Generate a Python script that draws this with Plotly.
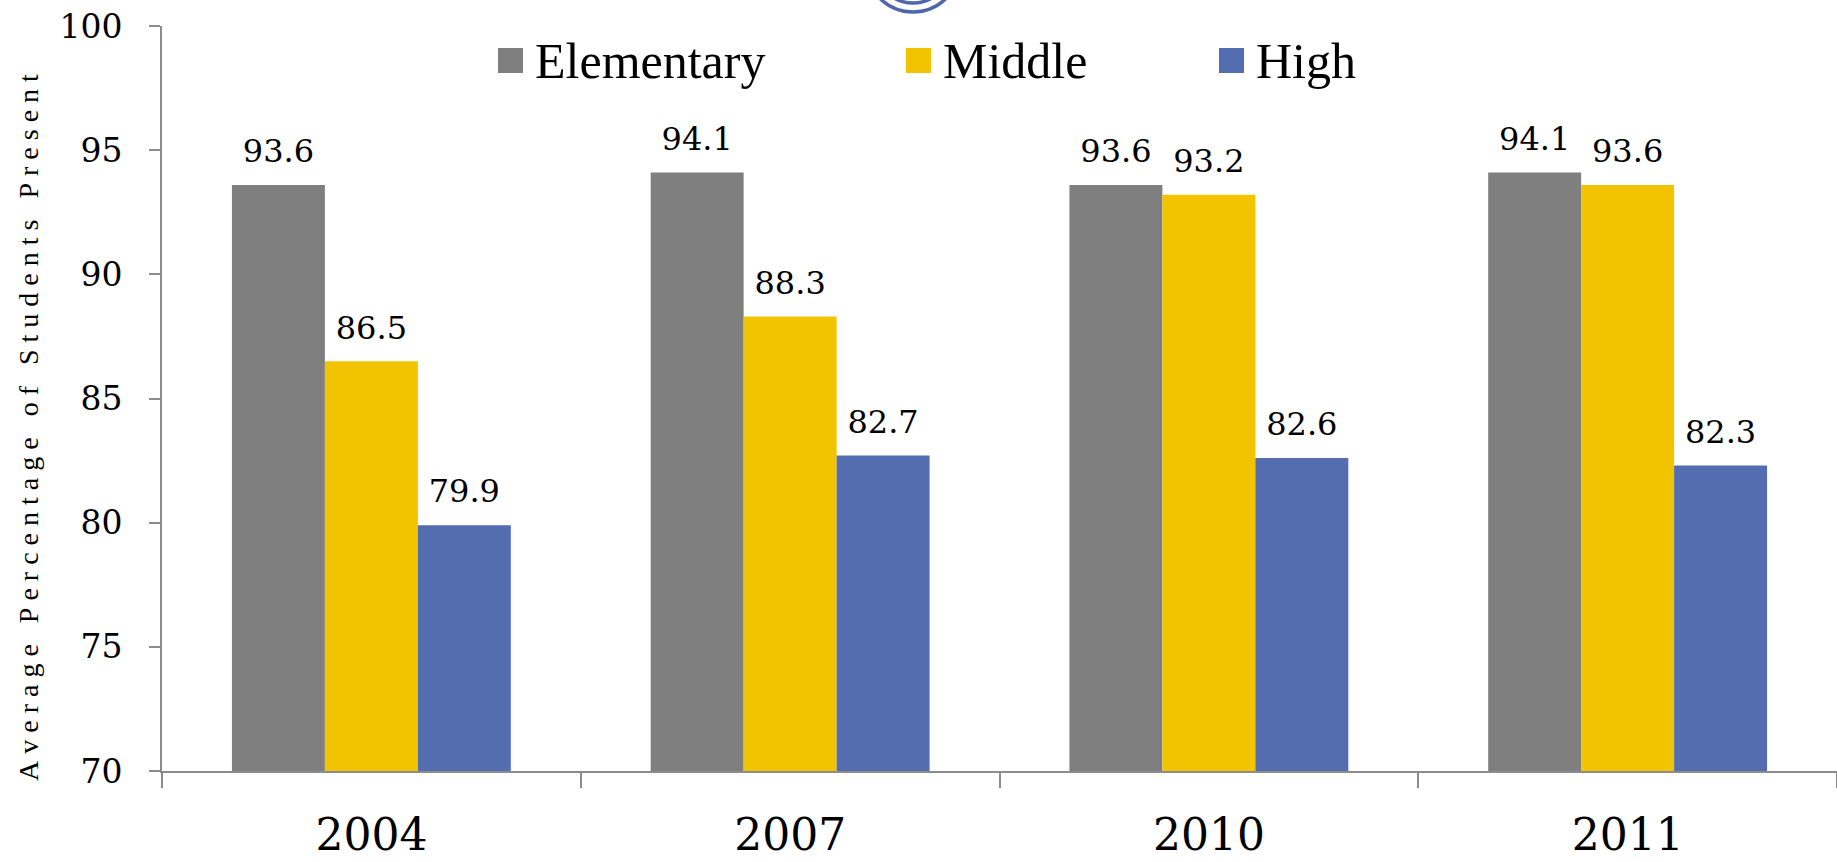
import plotly.graph_objects as go

# Attendance data
years = ["2004", "2007", "2010", "2011"]
series_names = ["Elementary", "Middle", "High"]
elementary = [93.6, 94.1, 93.6, 94.1]
middle = [86.5, 88.3, 93.2, 93.6]
high = [79.9, 82.7, 82.6, 82.3]
y_ticks = [70, 75, 80, 85, 90, 95, 100]

colors = ["#7f7f7f", "#f2c300", "#536db0"]
values = [elementary, middle, high]

W, H = 1837, 862
ML, MR, MT, MB = 162, 0, 26, 91
PW, PH = W - ML - MR, H - MT - MB


def px_x(p):
    return (p - ML) / PW


def px_y(p):
    return (H - MB - p) / PH


NUM_FONT = "DejaVu Serif"
LEG_FONT = "Liberation Serif"

fig = go.Figure()

for name, vals, col in zip(series_names, values, colors):
    fig.add_trace(go.Bar(
        x=years, y=vals, name=name, marker=dict(color=col, line=dict(width=0)),
        offsetgroup=name, showlegend=False,
    ))

# value labels sitting above each bar
for name, vals in zip(series_names, values):
    fig.add_trace(go.Scatter(
        x=years, y=vals, mode="markers+text", offsetgroup=name,
        text=[f"{v:.1f}" for v in vals], textposition="top center",
        textfont=dict(family=NUM_FONT, size=32, color="#000000"),
        marker=dict(size=22, opacity=0), showlegend=False, hoverinfo="skip",
        cliponaxis=False,
    ))

shapes = []
annotations = []

# legend built from the series names and colours
leg_sq_x = [498, 906, 1219]
for name, col, sx in zip(series_names, colors, leg_sq_x):
    shapes.append(dict(type="rect", xref="paper", yref="paper",
                       x0=px_x(sx), x1=px_x(sx + 25), y0=px_y(73), y1=px_y(48),
                       fillcolor=col, line=dict(width=0)))
    annotations.append(dict(xref="paper", yref="paper", x=px_x(sx + 35), y=px_y(61),
                            xanchor="left", yanchor="middle", showarrow=False,
                            text=name, font=dict(family=LEG_FONT, size=50, color="#000000")))

# emblem arcs at the top edge
cx, cy = 913, -35
for r in (47, 38):
    shapes.append(dict(type="circle", xref="paper", yref="paper",
                       x0=px_x(cx - r), x1=px_x(cx + r), y0=px_y(cy + r), y1=px_y(cy - r),
                       line=dict(color="#4f66ad", width=3.5), fillcolor="rgba(0,0,0,0)"))

# letter-spaced vertical axis title
title_words = "Average Percentage of Students Present".split(" ")
gap = "\u00a0"
spaced = (gap * 3).join(gap.join(list(w)) for w in title_words)
annotations.append(dict(xref="paper", yref="paper", x=px_x(28), y=px_y(428),
                        xanchor="center", yanchor="middle", showarrow=False, textangle=-90,
                        text=spaced, font=dict(family=LEG_FONT, size=28, color="#000000")))

fig.update_layout(
    width=W, height=H,
    margin=dict(l=ML, r=MR, t=MT, b=MB, pad=0, autoexpand=False),
    paper_bgcolor="#ffffff", plot_bgcolor="#ffffff",
    barmode="group", bargap=0.334, bargroupgap=0,
    scattermode="group", scattergap=0.334,
    showlegend=False,
    shapes=shapes, annotations=annotations,
    xaxis=dict(
        type="category", showgrid=False, showline=True, linecolor="#8c8c8c", linewidth=2,
        ticks="outside", tickson="boundaries", ticklen=15, tickwidth=2, tickcolor="#8c8c8c",
        tickfont=dict(family=NUM_FONT, size=44, color="#000000"), ticklabelstandoff=24,
        range=[-0.5, 3.5], fixedrange=True, automargin=False,
    ),
    yaxis=dict(
        range=[70, 100], tickvals=y_ticks, showgrid=False, zeroline=False,
        showline=True, linecolor="#8c8c8c", linewidth=2,
        ticks="outside", ticklen=11, tickwidth=2, tickcolor="#8c8c8c",
        tickfont=dict(family=NUM_FONT, size=33, color="#000000"), ticklabelstandoff=20,
        fixedrange=True, automargin=False,
    ),
)

fig.write_html("out.html")
